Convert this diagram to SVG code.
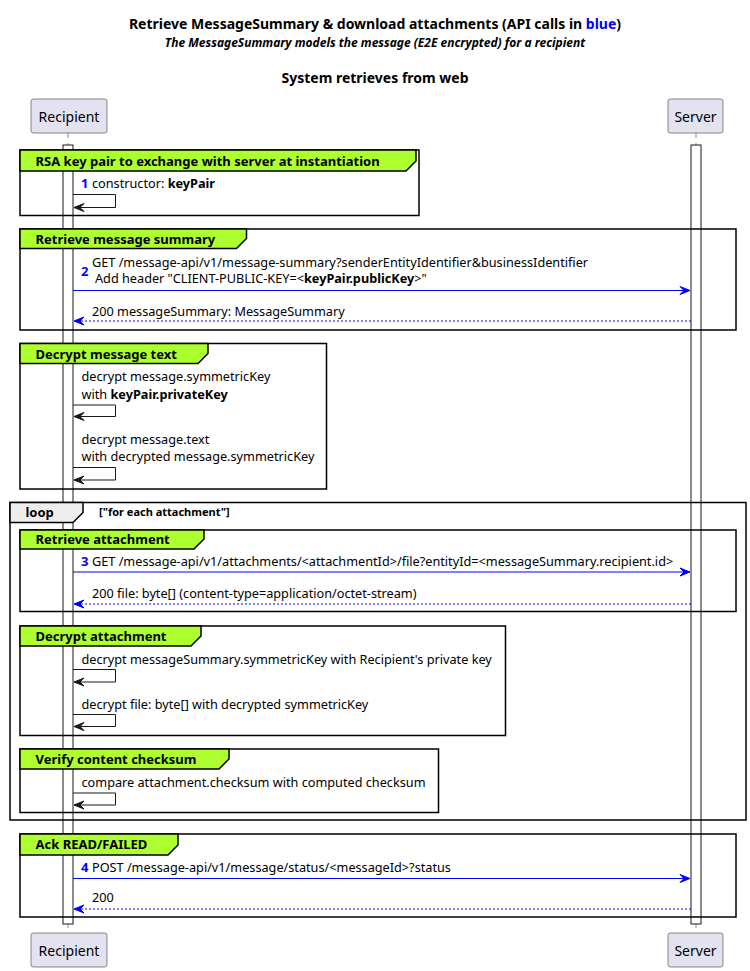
<svg xmlns="http://www.w3.org/2000/svg" width="750" height="971" viewBox="0 0 750 971">
<style>
text{font-family:"Noto Sans","DejaVu Sans",sans-serif;fill:#000}
.t{font-size:14px;font-weight:bold}
.st{font-size:12px;font-weight:bold;font-style:italic}
.m{font-size:12.7px}
.b{font-weight:bold}
.n{font-size:13px;font-weight:bold;fill:#0000FF}
.gt{font-size:13px;font-weight:bold}
.part{fill:#E2E2F0;stroke:#181818;stroke-width:0.5}
.pt{font-size:14px}
.life{stroke:#181818;stroke-width:0.5;stroke-dasharray:5,5}
.act{fill:#FFFFFF;stroke:#181818;stroke-width:1}
.gbox{fill:none;stroke:#000;stroke-width:1.5}
.ghead{fill:#ADFF2F;stroke:#000;stroke-width:1.5}
.lhead{fill:#EEEEEE;stroke:#000;stroke-width:1.5}
.call{stroke:#0000FF;stroke-width:1}
.ret{stroke:#0000FF;stroke-width:1;stroke-dasharray:2,2}
.self{fill:none;stroke:#181818;stroke-width:1}
.ah{fill:#0000FF;stroke:#0000FF;stroke-width:1}
.sh{fill:#181818;stroke:#181818;stroke-width:1}
</style>

<g id="title">
<text class="t" x="375" y="29" text-anchor="middle">Retrieve MessageSummary &amp; download attachments (API calls in <tspan fill="#0000FF">blue</tspan>)</text>
<text class="st" x="375" y="47" text-anchor="middle">The MessageSummary models the message (E2E encrypted) for a recipient</text>
<text class="t" x="375" y="83" text-anchor="middle">System retrieves from web</text>
</g>

<g id="lifelines">
<line class="life" x1="68" y1="133" x2="68" y2="933"/>
<line class="life" x1="696" y1="133" x2="696" y2="933"/>
<rect class="act" x="63" y="145" width="10" height="779"/>
<rect class="act" x="691" y="145" width="10" height="779"/>
</g>

<g id="recipient-top"><rect class="part" x="31" y="99" width="76" height="34" rx="2.5"/><text class="pt" x="69" y="122" text-anchor="middle">Recipient</text></g>
<g id="server-top"><rect class="part" x="668" y="99" width="55" height="34" rx="2.5"/><text class="pt" x="695.5" y="122" text-anchor="middle">Server</text></g>
<g id="recipient-bottom"><rect class="part" x="31" y="933" width="76" height="34" rx="2.5"/><text class="pt" x="69" y="956" text-anchor="middle">Recipient</text></g>
<g id="server-bottom"><rect class="part" x="668" y="933" width="55" height="34" rx="2.5"/><text class="pt" x="695.5" y="956" text-anchor="middle">Server</text></g>

<g id="group-rsa">
<rect class="gbox" x="20" y="150" width="399" height="65.5"/>
<path class="ghead" d="M20,150 H416 V161 L406,171 H20 Z"/>
<text class="gt" x="35.5" y="166">RSA key pair to exchange with server at instantiation</text>
</g>

<g id="group-summary">
<rect class="gbox" x="20" y="229" width="716" height="101"/>
<path class="ghead" d="M20,229 H246.5 V238.5 L236.5,248.5 H20 Z"/>
<text class="gt" x="35.5" y="244">Retrieve message summary</text>
</g>

<g id="group-decrypt-text">
<rect class="gbox" x="20" y="343.5" width="306.5" height="145.5"/>
<path class="ghead" d="M20,343.5 H208 V353.5 L198,363.5 H20 Z"/>
<text class="gt" x="35.5" y="359">Decrypt message text</text>
</g>

<g id="loop">
<rect class="gbox" x="10" y="502.5" width="736" height="317.5"/>
<path class="lhead" d="M10,502.5 H83 V512.5 L73,522.5 H10 Z"/>
<text class="gt" x="25.5" y="517">loop</text>
<text x="99" y="516" style="font-size:11px;font-weight:bold">["for each attachment"]</text>
</g>

<g id="group-retrieve-attachment">
<rect class="gbox" x="20" y="530" width="716" height="81.5"/>
<path class="ghead" d="M20,530 H204 V539 L194,549 H20 Z"/>
<text class="gt" x="35.5" y="544">Retrieve attachment</text>
</g>

<g id="group-decrypt-attachment">
<rect class="gbox" x="20" y="626" width="485.5" height="109.5"/>
<path class="ghead" d="M20,626 H201 V636 L191,646 H20 Z"/>
<text class="gt" x="35.5" y="641">Decrypt attachment</text>
</g>

<g id="group-verify">
<rect class="gbox" x="20" y="749" width="418.5" height="63.5"/>
<path class="ghead" d="M20,749 H229 V759 L219,769 H20 Z"/>
<text class="gt" x="35.5" y="764">Verify content checksum</text>
</g>

<g id="group-ack">
<rect class="gbox" x="20" y="834" width="716" height="83"/>
<path class="ghead" d="M20,834 H178 V845 L168,855 H20 Z"/>
<text class="gt" x="35.5" y="849">Ack READ/FAILED</text>
</g>

<g id="connectors">
<text class="n" x="81" y="188">1</text>
<text class="m" x="92" y="188">constructor: <tspan class="b">keyPair</tspan></text>
<polyline class="self" points="73,194.5 115.5,194.5 115.5,207.5 74,207.5"/>
<polygon class="sh" points="84,203.5 74,207.5 84,211.5 80,207.5"/>

<text class="n" x="81" y="276">2</text>
<text class="m" x="92" y="266.5">GET /message-api/v1/message-summary?senderEntityIdentifier&amp;businessIdentifier</text>
<text class="m" x="95" y="283">Add header "CLIENT-PUBLIC-KEY=&lt;<tspan class="b">keyPair.publicKey</tspan>&gt;"</text>
<line class="call" x1="73" y1="290.5" x2="689" y2="290.5"/>
<polygon class="ah" points="680,286.5 690,290.5 680,294.5 684,290.5"/>
<text class="m" x="92" y="316">200 messageSummary: MessageSummary</text>
<line class="ret" x1="691" y1="321" x2="75" y2="321"/>
<polygon class="ah" points="84,317 74,321 84,325 80,321"/>

<text class="m" x="81.5" y="381">decrypt message.symmetricKey</text>
<text class="m" x="81.5" y="398.5">with <tspan class="b">keyPair.privateKey</tspan></text>
<polyline class="self" points="73,405 115.5,405 115.5,416.5 74,416.5"/>
<polygon class="sh" points="84,412.5 74,416.5 84,420.5 80,416.5"/>
<text class="m" x="81.5" y="443.5">decrypt message.text</text>
<text class="m" x="81.5" y="461">with decrypted message.symmetricKey</text>
<polyline class="self" points="73,467.5 115.5,467.5 115.5,480 74,480"/>
<polygon class="sh" points="84,476 74,480 84,484 80,480"/>

<text class="n" x="81" y="566">3</text>
<text class="m" x="92" y="566">GET /message-api/v1/attachments/&lt;attachmentId&gt;/file?entityId=&lt;messageSummary.recipient.id&gt;</text>
<line class="call" x1="73" y1="572" x2="689" y2="572"/>
<polygon class="ah" points="680,568 690,572 680,576 684,572"/>
<text class="m" x="92" y="597.5">200 file: byte[] (content-type=application/octet-stream)</text>
<line class="ret" x1="691" y1="604" x2="75" y2="604"/>
<polygon class="ah" points="84,600 74,604 84,608 80,604"/>

<text class="m" x="81.5" y="663.5">decrypt messageSummary.symmetricKey with Recipient's private key</text>
<polyline class="self" points="73,669.5 115.5,669.5 115.5,682 74,682"/>
<polygon class="sh" points="84,678 74,682 84,686 80,682"/>
<text class="m" x="81.5" y="708.5">decrypt file: byte[] with decrypted symmetricKey</text>
<polyline class="self" points="73,714.5 115.5,714.5 115.5,726.5 74,726.5"/>
<polygon class="sh" points="84,722.5 74,726.5 84,730.5 80,726.5"/>

<text class="m" x="81.5" y="787">compare attachment.checksum with computed checksum</text>
<polyline class="self" points="73,793 115.5,793 115.5,805 74,805"/>
<polygon class="sh" points="84,801 74,805 84,809 80,805"/>

<text class="n" x="81" y="872">4</text>
<text class="m" x="92" y="872">POST /message-api/v1/message/status/&lt;messageId&gt;?status</text>
<line class="call" x1="73" y1="878.5" x2="689" y2="878.5"/>
<polygon class="ah" points="680,874.5 690,878.5 680,882.5 684,878.5"/>
<text class="m" x="92" y="902">200</text>
<line class="ret" x1="691" y1="909" x2="75" y2="909"/>
<polygon class="ah" points="84,905 74,909 84,913 80,909"/>
</g>
</svg>
